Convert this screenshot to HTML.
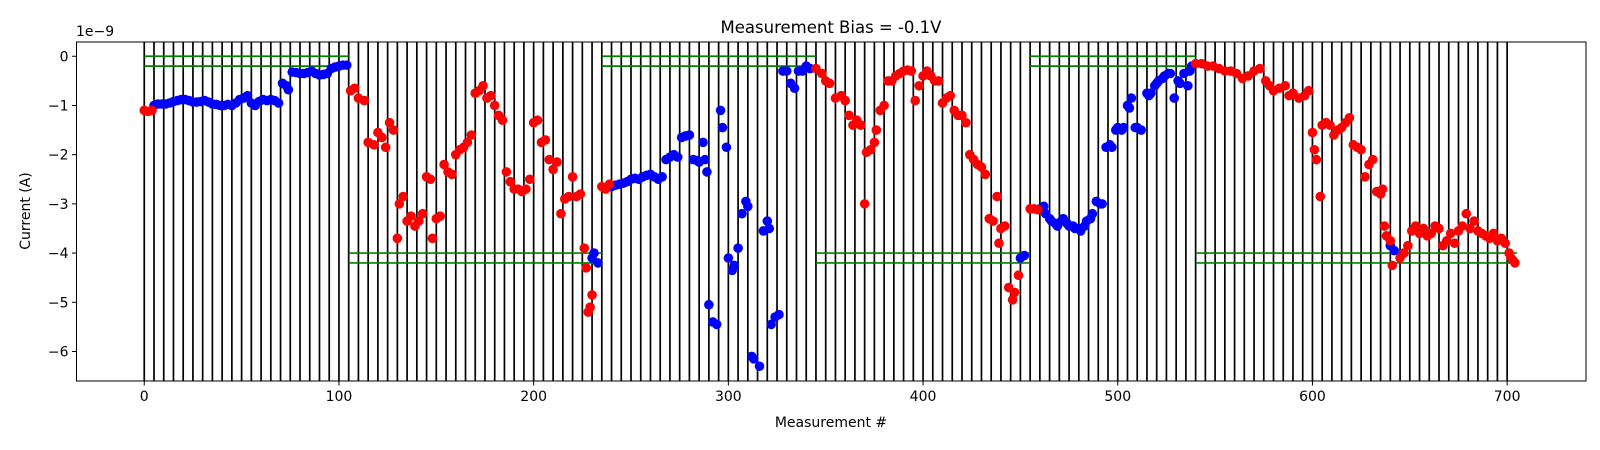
<!DOCTYPE html>
<html><head><meta charset="utf-8"><style>
html,body{margin:0;padding:0;background:#fff;}
svg{display:block;font-family:"DejaVu Sans","Liberation Sans",sans-serif;}
</style></head><body>
<svg id="chart" width="1600" height="450" viewBox="0 0 1600 450">
<text x="831" y="33" font-size="16.5" text-anchor="middle">Measurement Bias = -0.1V</text>
<g id="plot"></g>
<g id="axes"></g>
<text x="831" y="427" font-size="14" text-anchor="middle">Measurement #</text>
<text transform="translate(30,211) rotate(-90)" font-size="14" text-anchor="middle">Current (A)</text>
<text x="76" y="36" font-size="14">1e−9</text>
</svg>
<script>
const xTicks = [0,100,200,300,400,500,600,700];
const yTicks = [0,-1,-2,-3,-4,-5,-6];
const gateStart = 0, gateEnd = 700, gateStep = 5;
const upperRefSegments = [[0,105],[235,345],[455,540]];
const lowerRefSegments = [[105,235],[345,455],[540,705]];
const upperRefLevels = [0,-0.2];
const lowerRefLevels = [-4,-4.2];
const redPoints = [[0,-1.1],[2,-1.12],[4,-1.1],
[106,-0.7],[108,-0.65],[110,-0.85],[113,-0.9],[115,-1.75],[118,-1.8],[120,-1.55],[122,-1.65],[124,-1.85],[126,-1.35],[128,-1.5],[130,-3.7],[131,-3.0],[133,-2.85],[135,-3.35],[137,-3.25],[139,-3.45],[141,-3.35],[143,-3.2],[145,-2.45],[147,-2.5],[148,-3.7],[150,-3.3],[152,-3.25],[154,-2.2],[156,-2.35],[158,-2.4],[160,-2.0],[162,-1.9],[164,-1.85],[166,-1.75],[168,-1.6],[170,-0.75],[172,-0.7],[174,-0.6],[176,-0.85],[178,-0.8],[180,-1.0],[182,-1.2],[184,-1.3],[186,-2.35],[188,-2.55],[190,-2.7],[192,-2.7],[194,-2.75],[196,-2.7],[198,-2.5],[200,-1.35],[202,-1.3],[204,-1.75],[206,-1.7],[208,-2.1],[210,-2.3],[212,-2.15],[214,-3.2],[216,-2.9],[218,-2.85],[220,-2.45],[222,-2.85],[224,-2.8],[226,-3.9],[227,-4.3],[228,-5.2],[229,-5.1],[230,-4.85],
[235,-2.65],[237,-2.7],[239,-2.6],
[345,-0.25],[348,-0.35],[350,-0.5],[352,-0.55],[355,-0.85],[358,-0.8],[360,-0.9],[362,-1.2],[364,-1.4],[366,-1.3],[368,-1.4],[370,-3.0],[371,-1.95],[373,-1.9],[375,-1.75],[376,-1.5],[378,-1.1],[380,-1.0],[382,-0.5],[384,-0.5],[386,-0.4],[388,-0.35],[390,-0.3],[392,-0.28],[394,-0.3],[396,-0.9],[398,-0.6],[400,-0.4],[402,-0.3],[404,-0.4],[406,-0.5],[408,-0.5],[410,-0.95],[412,-0.85],[414,-0.8],[416,-1.1],[418,-1.2],[420,-1.2],[422,-1.35],[424,-2.0],[426,-2.1],[428,-2.2],[430,-2.25],[432,-2.4],[434,-3.3],[436,-3.35],[438,-2.85],[439,-3.8],[440,-3.5],[442,-3.45],[444,-4.7],[446,-4.95],[447,-4.8],[449,-4.45],
[455,-3.1],[457,-3.1],[459,-3.12],
[540,-0.15],[543,-0.15],[546,-0.2],[549,-0.2],[552,-0.25],[555,-0.3],[558,-0.3],[561,-0.35],[564,-0.45],[567,-0.4],[570,-0.3],[573,-0.25],[576,-0.5],[578,-0.6],[580,-0.7],[583,-0.65],[586,-0.6],[588,-0.8],[590,-0.75],[593,-0.85],[596,-0.8],[598,-0.7],[600,-1.55],[601,-1.9],[602,-2.1],[604,-2.85],[605,-1.4],[607,-1.35],[609,-1.4],[611,-1.6],[613,-1.5],[615,-1.45],[617,-1.35],[619,-1.25],[621,-1.8],[623,-1.85],[625,-1.9],[627,-2.45],[629,-2.2],[631,-2.1],[633,-2.75],[635,-2.8],[636,-2.7],[637,-3.45],[638,-3.65],[640,-3.75],[641,-4.25],[645,-4.1],[647,-4.0],[649,-3.85],[651,-3.55],[653,-3.45],[655,-3.6],[657,-3.5],[659,-3.65],[661,-3.6],[663,-3.45],[665,-3.5],[667,-3.85],[669,-3.75],[671,-3.6],[673,-3.8],[675,-3.55],[677,-3.45],[679,-3.2],[681,-3.5],[683,-3.35],[685,-3.55],[687,-3.6],[689,-3.65],[691,-3.7],[693,-3.6],[695,-3.75],[697,-3.7],[699,-3.8],[701,-4.0],[702,-4.1],[703,-4.15],[704,-4.2]];
const bluePoints = [[5,-1.0],[7,-0.97],[9,-0.97],[11,-0.97],[13,-0.95],[15,-0.92],[17,-0.9],[19,-0.88],[21,-0.88],[23,-0.9],[25,-0.93],[27,-0.93],[29,-0.92],[31,-0.9],[33,-0.93],[35,-0.97],[37,-0.98],[39,-1.0],[41,-1.0],[43,-0.98],[45,-1.0],[47,-0.95],[49,-0.88],[51,-0.85],[53,-0.8],[55,-0.95],[57,-1.0],[59,-0.92],[61,-0.88],[63,-0.9],[65,-0.88],[67,-0.9],[69,-0.95],[71,-0.55],[73,-0.6],[74,-0.68],[76,-0.32],[78,-0.33],[80,-0.35],[82,-0.35],[84,-0.33],[86,-0.3],[88,-0.35],[90,-0.38],[92,-0.37],[94,-0.35],[96,-0.25],[98,-0.22],[100,-0.2],[102,-0.18],[104,-0.18],
[230,-4.1],[231,-4.0],[233,-4.2],
[240,-2.65],[242,-2.62],[244,-2.6],[246,-2.58],[248,-2.55],[250,-2.5],[252,-2.48],[254,-2.5],[256,-2.45],[258,-2.42],[260,-2.4],[262,-2.45],[264,-2.5],[266,-2.45],[268,-2.1],[270,-2.05],[272,-2.0],[274,-2.05],[276,-1.65],[278,-1.62],[280,-1.6],[282,-2.1],[284,-2.12],[285,-2.15],[287,-1.75],[288,-2.1],[289,-2.35],[290,-5.05],[292,-5.4],[294,-5.45],[296,-1.1],[297,-1.45],[299,-1.85],[300,-4.1],[302,-4.35],[303,-4.25],[305,-3.9],[307,-3.2],[309,-2.95],[310,-3.05],[312,-6.1],[313,-6.15],[316,-6.3],[318,-3.55],[320,-3.35],[321,-3.5],[322,-5.45],[324,-5.3],[326,-5.25],[328,-0.3],[330,-0.3],[332,-0.55],[334,-0.65],[336,-0.3],[338,-0.3],[340,-0.2],[342,-0.25],
[450,-4.1],[452,-4.05],
[460,-3.1],[462,-3.05],[463,-3.2],[465,-3.3],[466,-3.35],[468,-3.4],[469,-3.45],[471,-3.35],[472,-3.3],[474,-3.4],[475,-3.45],[477,-3.45],[478,-3.5],[480,-3.5],[481,-3.55],[483,-3.45],[484,-3.35],[486,-3.3],[487,-3.2],[489,-2.95],[491,-3.0],[492,-3.0],[494,-1.85],[496,-1.8],[497,-1.85],[499,-1.5],[500,-1.45],[502,-1.5],[503,-1.45],[505,-1.0],[506,-1.05],[507,-0.85],[509,-1.45],[510,-1.45],[512,-1.5],[515,-0.75],[516,-0.8],[517,-0.75],[519,-0.6],[520,-0.55],[521,-0.5],[523,-0.45],[524,-0.4],[526,-0.35],[527,-0.35],[529,-0.85],[531,-0.5],[532,-0.55],[534,-0.35],[536,-0.6],[537,-0.3],[538,-0.2],
[640,-3.85],[642,-3.95]];

const NS = "http://www.w3.org/2000/svg";
const L = 76.5, R = 1586, T = 42, B = 381;
const xMin = -34.8, xMax = 740.5, yMin = -6.6, yMax = 0.29;
function X(v){ return L + (v - xMin) / (xMax - xMin) * (R - L); }
function Y(v){ return B - (v - yMin) / (yMax - yMin) * (B - T); }
const plot = document.getElementById('plot');
const axes = document.getElementById('axes');
function mk(tag, attrs, parent){ const e = document.createElementNS(NS, tag); for (const k in attrs) e.setAttribute(k, attrs[k]); parent.appendChild(e); return e; }

for (let g = gateStart; g <= gateEnd; g += gateStep) {
  const ln = mk('line', {x1:X(g), x2:X(g), y1:T, y2:B, stroke:'#000', 'stroke-width':1.7}, plot);
  
  
}
function refLines(segs, levels, name){
  segs.forEach(s => levels.forEach(lv => {
    const ln = mk('line', {x1:X(s[0]), x2:X(s[1]), y1:Y(lv), y2:Y(lv), stroke:'#008000', 'stroke-width':1.7}, plot);
    
    
  }));
}
refLines(upperRefSegments, upperRefLevels, 'upper-reference-line');
refLines(lowerRefSegments, lowerRefLevels, 'lower-reference-line');

function pts(arr, color, name){
  arr.forEach(p => {
    const c = mk('circle', {cx:X(p[0]), cy:Y(p[1]), r:4.8, fill:color}, plot);
    
    
  });
}
pts(bluePoints, '#0000ff', 'blue-point');
pts(redPoints, '#ff0000', 'red-point');

const frame = mk('rect', {x:L, y:T, width:R-L, height:B-T, fill:'none', stroke:'#000', 'stroke-width':1}, axes);


xTicks.forEach(t => {
  const tk = mk('line', {x1:X(t), x2:X(t), y1:B, y2:B+4.5, stroke:'#000', 'stroke-width':1}, axes);
  
  
  const tx = mk('text', {x:X(t), y:B+20, 'font-size':14, 'text-anchor':'middle'}, axes);
  tx.textContent = String(t);
  
  
});
yTicks.forEach(t => {
  const tk = mk('line', {x1:L-4.5, x2:L, y1:Y(t), y2:Y(t), stroke:'#000', 'stroke-width':1}, axes);
  
  
  const tx = mk('text', {x:L-8, y:Y(t)+5, 'font-size':14, 'text-anchor':'end'}, axes);
  tx.textContent = t < 0 ? '\u2212' + Math.abs(t) : String(t);
  
  
});
</script>
</body></html>
